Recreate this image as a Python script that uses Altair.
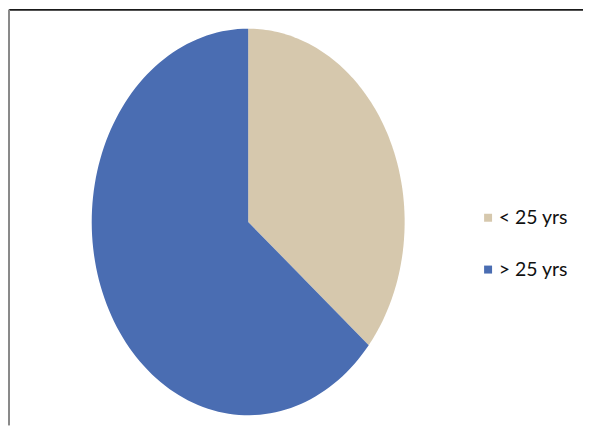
import altair as alt
import pandas as pd

categories = ["< 25 yrs", "> 25 yrs"]
values = [36, 64]
colors = ["#d6c8ad", "#4a6db2"]

df = pd.DataFrame({"group": categories, "value": values})

W, H = 576, 417

base = alt.Chart(df).transform_joinaggregate(
    total="sum(value)"
).transform_window(
    cum="sum(value)", sort=[alt.SortField("group")]
).transform_calculate(
    start="datum.cum - datum.value",
    idx="sequence(0, 122)"
).transform_flatten(["idx"]).transform_calculate(
    ang="2*PI*(datum.start + datum.value*(datum.idx-1)/120)/datum.total",
).transform_calculate(
    px="datum.idx == 0 ? 0 : sin(datum.ang)",
    py="datum.idx == 0 ? 0 : cos(datum.ang)",
)

pie = base.mark_line(filled=True, strokeWidth=0.6, interpolate="linear").encode(
    x=alt.X("px:Q", scale=alt.Scale(domain=[-1.5287, 2.140], nice=False, zero=False), axis=None),
    y=alt.Y("py:Q", scale=alt.Scale(domain=[-1.052, 1.098], nice=False, zero=False), axis=None),
    order=alt.Order("idx:Q"),
    detail="group:N",
    color=alt.Color(
        "group:N",
        scale=alt.Scale(domain=categories, range=colors),
        legend=alt.Legend(
            title=None,
            orient="none",
            legendX=471,
            legendY=199,
            padding=0,
            symbolType="square",
            symbolSize=64,
            symbolStrokeWidth=0,
            labelFont="Lato",
            labelFontSize=19.5,
            labelColor="#111111",
            labelOffset=1,
            rowPadding=31,
        ),
    ),
)

top_line = alt.Chart(df).mark_rule(color="#1a1a1a", strokeWidth=1.5).encode(
    x=alt.value(0), x2=alt.value(W), y=alt.value(0)
)
left_line = alt.Chart(df).mark_rule(color="#8a8a8a", strokeWidth=2).encode(
    x=alt.value(0), y=alt.value(0), y2=alt.value(H)
)

chart = alt.layer(pie, top_line, left_line).properties(
    width=W, height=H, padding=0, background="white"
).configure_view(stroke=None)

chart.save("out.html", embed_options={"renderer": "svg", "actions": False})
